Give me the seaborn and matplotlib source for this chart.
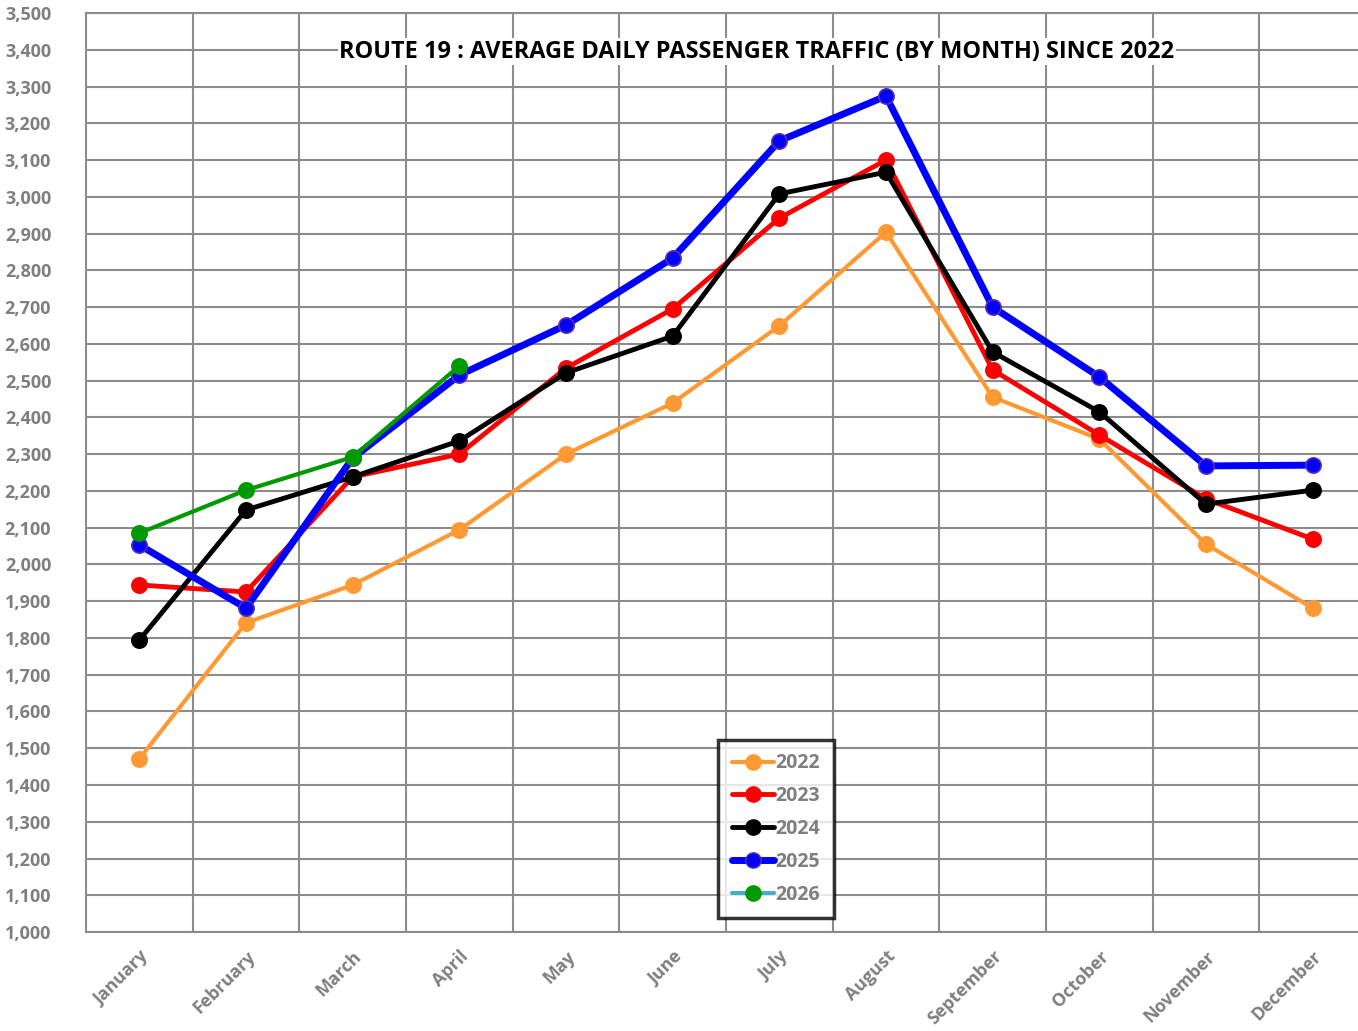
import matplotlib
matplotlib.use("Agg")
import matplotlib.pyplot as plt
from matplotlib.lines import Line2D
from matplotlib.ticker import FuncFormatter, MultipleLocator, FixedLocator
import pandas as pd
import seaborn as sns

# Data
months = ["January", "February", "March", "April", "May", "June", "July",
          "August", "September", "October", "November", "December"]

traffic_2022 = [1471, 1841, 1944, 2094, 2300, 2439, 2649, 2904, 2455, 2341, 2055, 1881]
traffic_2023 = [1944, 1925, 2238, 2300, 2534, 2695, 2942, 3100, 2529, 2352, 2178, 2069]
traffic_2024 = [1794, 2148, 2238, 2336, 2521, 2621, 3008, 3067, 2578, 2415, 2164, 2202]
traffic_2025 = [2053, 1881, 2289, 2515, 2651, 2833, 3152, 3274, 2700, 2510, 2268, 2270]
traffic_2026 = [2085, 2202, 2292, 2540]

series = {
    "2022": traffic_2022,
    "2023": traffic_2023,
    "2024": traffic_2024,
    "2025": traffic_2025,
    "2026": traffic_2026,
}

# Styles
styles = {
    "2022": dict(color="#FF9933", lw=3.0, mec="#FF9933", legend_line="#FF9933"),
    "2023": dict(color="#FF0000", lw=3.5, mec="#FF0000", legend_line="#FF0000"),
    "2024": dict(color="#000000", lw=3.5, mec="#000000", legend_line="#000000"),
    "2025": dict(color="#0000FF", lw=5.0, mec="#5B2FB0", legend_line="#0000FF"),
    "2026": dict(color="#009900", lw=3.0, mec="#009900", legend_line="#4BACC6"),
}

GRAY = "#7F7F7F"
GRID = "#8C8C8C"

sns.set_theme(style="white")
plt.rcParams["font.family"] = ["Open Sans", "DejaVu Sans"]

fig = plt.figure(figsize=(13.58, 10.31), dpi=100)
ax = fig.add_axes([0.0633, 0.096, 0.9426, 0.8914])

for year, vals in series.items():
    st = styles[year]
    df = pd.DataFrame({"x": range(len(vals)), "value": vals})
    sns.lineplot(data=df, x="x", y="value", ax=ax, color=st["color"],
                 linewidth=st["lw"], marker="o", markersize=11,
                 markeredgecolor=st["mec"], markeredgewidth=1.2, zorder=3)

ax.set_xlim(-0.5, len(months) - 0.5)
ax.set_ylim(1000, 3500)

# Grid: horizontal at every 100, vertical at category boundaries
ax.yaxis.set_major_locator(MultipleLocator(100))
ax.yaxis.set_major_formatter(FuncFormatter(lambda v, p: f"{int(v):,}"))
ax.set_xticks(range(len(months)))
ax.set_xticklabels(months, rotation=45, ha="right", rotation_mode="anchor")
ax.xaxis.set_minor_locator(FixedLocator([i + 0.5 for i in range(len(months) - 1)]))
ax.grid(which="major", axis="y", color=GRID, lw=1.5)
ax.grid(which="minor", axis="x", color=GRID, lw=1.5)
ax.set_axisbelow(True)

for side in ["left", "bottom", "top"]:
    ax.spines[side].set_color(GRID)
    ax.spines[side].set_linewidth(1.5)
ax.spines["right"].set_visible(False)

ax.tick_params(axis="both", which="both", length=0, colors=GRAY, labelsize=13)
ax.tick_params(axis="y", pad=25)
ax.tick_params(axis="x", pad=11, labelsize=12.8)
for lab in ax.get_xticklabels() + ax.get_yticklabels():
    lab.set_fontweight("bold")
    lab.set_color(GRAY)

ax.set_xlabel("")
ax.set_ylabel("")

ax.text(0.524, 0.958, "ROUTE 19 : AVERAGE DAILY PASSENGER TRAFFIC (BY MONTH) SINCE 2022",
        transform=ax.transAxes, ha="center", va="center", fontsize=16.9,
        fontweight="bold", color="black", zorder=5,
        bbox=dict(facecolor="white", edgecolor="none", pad=1))

# Legend
handles = []
for year in series:
    st = styles[year]
    handles.append(Line2D([0], [0], color=st["legend_line"], lw=st["lw"], marker="o",
                          markersize=11, markerfacecolor=st["color"],
                          markeredgecolor=st["mec"]))
leg = ax.legend(handles, list(series.keys()), loc="center", bbox_to_anchor=(0.539, 0.112),
                frameon=True, fancybox=False, fontsize=14, handlelength=2.2,
                handletextpad=0.05, labelspacing=0.66, borderpad=0.7, borderaxespad=0)
leg.get_frame().set_edgecolor("black")
leg.get_frame().set_linewidth(2.5)
for t in leg.get_texts():
    t.set_color(GRAY)
    t.set_fontweight("bold")

fig.savefig("out.png", dpi=100)
